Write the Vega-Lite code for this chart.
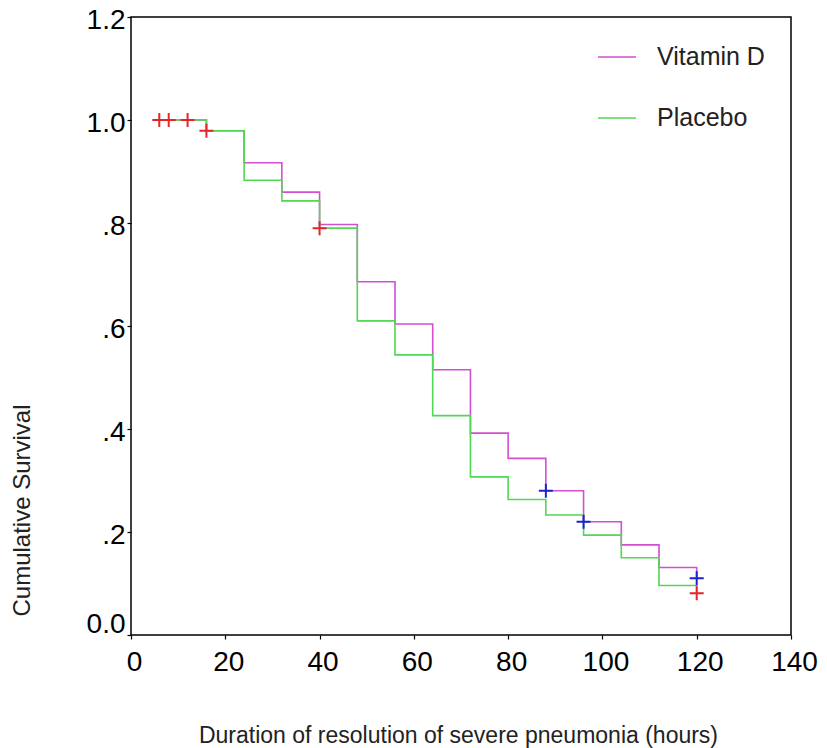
{
  "$schema": "https://vega.github.io/schema/vega-lite/v6.json",
  "width": 660,
  "height": 618,
  "autosize": {"type": "none"},
  "padding": {"left": 131, "top": 17, "right": 36, "bottom": 113},
  "background": "white",
  "config": {
    "view": {"stroke": "black", "strokeWidth": 1.5},
    "font": "Liberation Sans",
    "axis": {
      "grid": false,
      "domain": false,
      "tickColor": "black",
      "tickSize": 4,
      "tickWidth": 1.2,
      "labelColor": "black",
      "labelFont": "Liberation Sans",
      "labelFontSize": 28,
      "labelFlush": false,
      "labelOverlap": false,
      "titleFont": "Liberation Sans",
      "titleFontSize": 23,
      "titleFontWeight": "normal",
      "titleColor": "#222222"
    }
  },
  "datasets": {
    "curves": [
      {"group": "Vitamin D", "time": 6, "surv": 1.0},
      {"group": "Vitamin D", "time": 16, "surv": 0.979},
      {"group": "Vitamin D", "time": 24, "surv": 0.917},
      {"group": "Vitamin D", "time": 32, "surv": 0.86},
      {"group": "Vitamin D", "time": 40, "surv": 0.797},
      {"group": "Vitamin D", "time": 48, "surv": 0.686},
      {"group": "Vitamin D", "time": 56, "surv": 0.604},
      {"group": "Vitamin D", "time": 64, "surv": 0.515},
      {"group": "Vitamin D", "time": 72, "surv": 0.392},
      {"group": "Vitamin D", "time": 80, "surv": 0.343},
      {"group": "Vitamin D", "time": 88, "surv": 0.28},
      {"group": "Vitamin D", "time": 96, "surv": 0.22},
      {"group": "Vitamin D", "time": 104, "surv": 0.175},
      {"group": "Vitamin D", "time": 112, "surv": 0.131},
      {"group": "Vitamin D", "time": 120, "surv": 0.11},
      {"group": "Placebo", "time": 6, "surv": 1.0},
      {"group": "Placebo", "time": 16, "surv": 0.979},
      {"group": "Placebo", "time": 24, "surv": 0.883},
      {"group": "Placebo", "time": 32, "surv": 0.843},
      {"group": "Placebo", "time": 40, "surv": 0.79},
      {"group": "Placebo", "time": 48, "surv": 0.61},
      {"group": "Placebo", "time": 56, "surv": 0.544},
      {"group": "Placebo", "time": 64, "surv": 0.426},
      {"group": "Placebo", "time": 72, "surv": 0.307},
      {"group": "Placebo", "time": 80, "surv": 0.263},
      {"group": "Placebo", "time": 88, "surv": 0.233},
      {"group": "Placebo", "time": 96, "surv": 0.194},
      {"group": "Placebo", "time": 104, "surv": 0.15},
      {"group": "Placebo", "time": 112, "surv": 0.096},
      {"group": "Placebo", "time": 120, "surv": 0.081}
    ],
    "censored": [
      {"mark": "red", "time": 6, "surv": 1.0},
      {"mark": "red", "time": 8, "surv": 1.0},
      {"mark": "red", "time": 12, "surv": 1.0},
      {"mark": "red", "time": 16, "surv": 0.979},
      {"mark": "red", "time": 40, "surv": 0.79},
      {"mark": "red", "time": 120, "surv": 0.081},
      {"mark": "blue", "time": 88, "surv": 0.28},
      {"mark": "blue", "time": 96, "surv": 0.22},
      {"mark": "blue", "time": 120, "surv": 0.11}
    ]
  },
  "encoding": {
    "x": {
      "field": "time",
      "type": "quantitative",
      "scale": {"domain": [0, 140], "nice": false, "zero": false},
      "axis": {
        "values": [0, 20, 40, 60, 80, 100, 120, 140],
        "title": "Duration of resolution of severe pneumonia (hours)",
        "labelPadding": 9,
        "labelOffset": 3,
        "titleX": 327,
        "titleY": 100,
        "titleBaseline": "middle"
      }
    },
    "y": {
      "field": "surv",
      "type": "quantitative",
      "scale": {"domain": [0, 1.2], "nice": false, "zero": false},
      "axis": {
        "values": [0, 0.2, 0.4, 0.6, 0.8, 1.0, 1.2],
        "labelExpr": "datum.value == 0 ? '0.0' : (datum.value >= 1 ? format(datum.value, '.1f') : replace(format(datum.value, '.1f'), '0.', '.'))",
        "labelPadding": 2,
        "labelBaseline": "middle",
        "labelOffset": {"condition": {"test": "datum.value == 0", "value": -11}, "value": 3},
        "title": "Cumulative Survival",
        "titleFontSize": 24,
        "titleAngle": -90,
        "titleX": -109,
        "titleY": 493,
        "titleAlign": "center",
        "titleBaseline": "middle"
      }
    }
  },
  "layer": [
    {
      "data": {"name": "curves"},
      "mark": {"type": "line", "interpolate": "step-after", "strokeWidth": 1.6},
      "encoding": {
        "color": {
          "field": "group",
          "type": "nominal",
          "scale": {"domain": ["Vitamin D", "Placebo"], "range": ["#d24fd2", "#52d852"]},
          "legend": {
            "title": null,
            "orient": "none",
            "legendX": 466,
            "legendY": 20,
            "symbolType": "stroke",
            "symbolSize": 1444,
            "symbolStrokeWidth": 1.5,
            "labelFont": "Liberation Sans",
            "labelFontSize": 25,
            "labelColor": "#222222",
            "labelOffset": 20,
            "rowPadding": 28,
            "padding": 0
          }
        },
        "order": {"field": "time"}
      }
    },
    {
      "data": {"name": "censored"},
      "transform": [{"filter": "datum.mark == 'red'"}],
      "mark": {"type": "point", "shape": "M-1,0L1,0M0,-1L0,1", "filled": false, "stroke": "#e3262a", "strokeWidth": 2, "size": 196, "opacity": 1}
    },
    {
      "data": {"name": "censored"},
      "transform": [{"filter": "datum.mark == 'blue'"}],
      "mark": {"type": "point", "shape": "M-1,0L1,0M0,-1L0,1", "filled": false, "stroke": "#1f22cc", "strokeWidth": 2, "size": 196, "opacity": 1}
    }
  ]
}
